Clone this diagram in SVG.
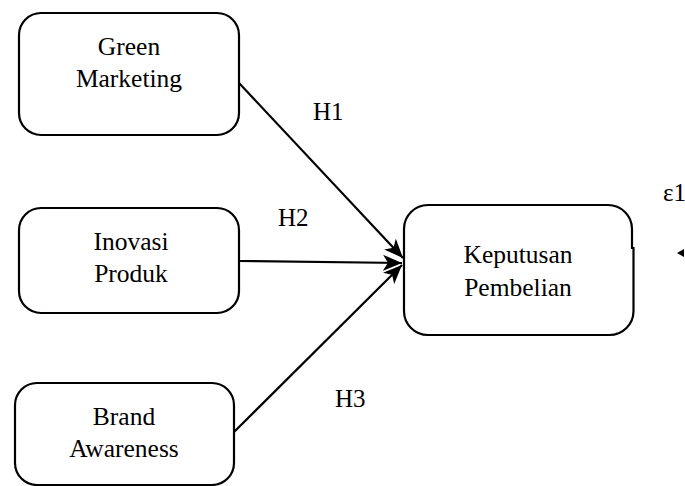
<svg xmlns="http://www.w3.org/2000/svg" width="685" height="486" viewBox="0 0 685 486">
<style>
.box{fill:#fff;stroke:#000;stroke-width:2.2}
.t{font-family:"Liberation Serif","Times New Roman",serif;font-size:25.5px;fill:#000;text-anchor:middle}
.lbl{font-family:"Liberation Serif","Times New Roman",serif;font-size:25px;fill:#000}
.c{stroke:#000;stroke-width:2.2;fill:none}
</style>
<defs>
<marker id="ah" markerUnits="userSpaceOnUse" markerWidth="20" markerHeight="16" viewBox="0 0 20 16" refX="19" refY="8" orient="auto">
<path d="M0,0 L19,8 L0,16 L5,8 Z" fill="#000"/>
</marker>
</defs>
<rect width="685" height="486" fill="#fff"/>
<g id="connectors">
<line class="c" x1="239" y1="83" x2="403" y2="258" marker-end="url(#ah)"/>
<line class="c" x1="239" y1="261" x2="402" y2="263" marker-end="url(#ah)"/>
<line class="c" x1="234" y1="432" x2="402" y2="265" marker-end="url(#ah)"/>
<polygon points="677,253 684,249 684,257" fill="#000"/>
</g>
<g id="green-marketing">
<rect class="box" x="19" y="13" width="220" height="122" rx="22"/>
<text class="t" x="129" y="55">Green</text>
<text class="t" x="129" y="87">Marketing</text>
</g>
<g id="inovasi-produk">
<rect class="box" x="19" y="208" width="220" height="105" rx="22"/>
<text class="t" x="131" y="250">Inovasi</text>
<text class="t" x="131" y="282">Produk</text>
</g>
<g id="brand-awareness">
<rect class="box" x="15" y="383" width="219" height="102" rx="22"/>
<text class="t" x="124" y="425">Brand</text>
<text class="t" x="124" y="457">Awareness</text>
</g>
<g id="keputusan-pembelian">
<path class="box" d="M428,205 H608 A24,24 0 0 1 632,229 V248 H633.5 V311 A24,24 0 0 1 609.5,335 H428 A24,24 0 0 1 404,311 V229 A24,24 0 0 1 428,205 Z"/>
<text class="t" x="518" y="263">Keputusan</text>
<text class="t" x="518" y="296">Pembelian</text>
</g>
<g id="labels">
<text class="lbl" x="313" y="120">H1</text>
<text class="lbl" x="278" y="226">H2</text>
<text class="lbl" x="335" y="407">H3</text>
<text class="lbl" x="663" y="201">ε1</text>
</g>
</svg>
